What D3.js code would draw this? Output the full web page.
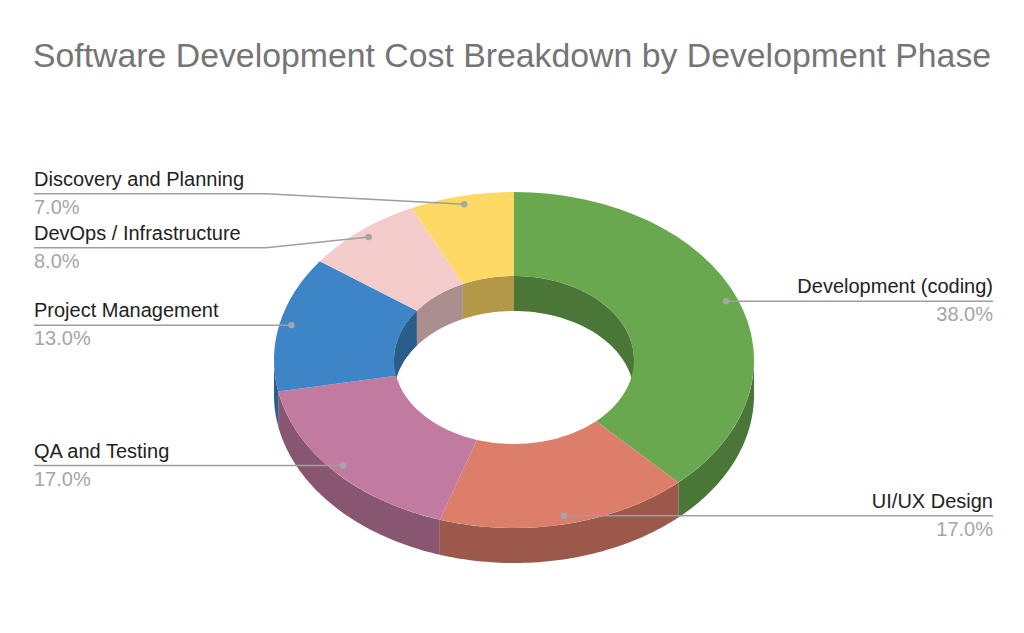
<!DOCTYPE html>
<html>
<head>
<meta charset="utf-8">
<script src="https://cdn.jsdelivr.net/npm/d3@7/dist/d3.min.js"></script>
<style>
  html, body { margin: 0; padding: 0; background: #fff; }
  svg { display: block; font-family: "Liberation Sans", Arial, sans-serif; }
</style>
</head>
<body>
<div id="chart"></div>
<script>
/* --- dados ---------------------------------------------------------------- */
var categories = ['Development (coding)', 'UI/UX Design', 'QA and Testing',
                  'Project Management', 'DevOps / Infrastructure', 'Discovery and Planning'];
var values     = [38, 17, 17, 13, 8, 7];
var colors     = ['#6aa84f', '#dd7e6b', '#c27ba0', '#3d85c6', '#f4cccc', '#ffd966'];
var title      = 'Software Development Cost Breakdown by Development Phase';

/* --- dimensões ------------------------------------------------------------ */
var W = 1024, H = 633;
var cx = 514, cy = 360;        // centro da face superior
var rx = 240, ry = 168;        // raios da elipse externa
var hole = 0.5;                // fração do furo
var depth = 35;                // espessura do anel
var k = ry / rx;

var svg = d3.select('#chart').append('svg').attr('width', W).attr('height', H);

svg.append('text')
  .attr('x', 33).attr('y', 67)
  .attr('font-size', 33.8)
  .attr('fill', '#757575')
  .text(title);

var pie = d3.pie().sort(null).value(function (d) { return d; });
var arcs = pie(values);
var total = d3.sum(values);
var fmt = d3.format('.1%');

function px(a, r) { return cx + r * Math.sin(a); }
function py(a, r) { return cy - r * k * Math.cos(a); }

/* parede: arco de a0 a a1 no raio r, descendo depth */
function wallPath(a0, a1, r) {
  var n = Math.max(2, Math.ceil((a1 - a0) / 0.02));
  var top = d3.range(n + 1).map(function (i) { var a = a0 + (a1 - a0) * i / n; return [px(a, r), py(a, r)]; });
  var bot = top.slice().reverse().map(function (p) { return [p[0], p[1] + depth]; });
  return d3.line()(top.concat(bot)) + 'Z';
}

function clipRange(a0, a1, lo, hi) {
  var s = Math.max(a0, lo), e = Math.min(a1, hi);
  return s < e ? [s, e] : null;
}

var g = svg.append('g');

/* paredes internas (metade de trás do furo) */
arcs.forEach(function (d, i) {
  [[0, Math.PI / 2], [1.5 * Math.PI, 2 * Math.PI]].forEach(function (rg) {
    var c = clipRange(d.startAngle, d.endAngle, rg[0], rg[1]);
    if (!c) return;
    g.append('path')
      .attr('d', wallPath(c[0], c[1], rx * hole))
      .attr('fill', d3.color(colors[i]).darker(1));
  });
});

/* paredes externas (metade da frente) */
arcs.forEach(function (d, i) {
  var c = clipRange(d.startAngle, d.endAngle, Math.PI / 2, 1.5 * Math.PI);
  if (!c) return;
  g.append('path')
    .attr('d', wallPath(c[0], c[1], rx))
    .attr('fill', d3.color(colors[i]).darker(1));
});

/* faces superiores */
var arcGen = d3.arc().innerRadius(rx * hole).outerRadius(rx);
g.append('g')
  .attr('transform', 'translate(' + cx + ',' + cy + ') scale(1,' + k + ')')
  .selectAll('path').data(arcs).join('path')
  .attr('d', arcGen)
  .attr('fill', function (d, i) { return colors[i]; });

/* --- rótulos --------------------------------------------------------------- */
var labels = arcs.map(function (d, i) {
  var a = (d.startAngle + d.endAngle) / 2;
  return {
    name: categories[i], pct: values[i] / total,
    ax: px(a, rx * 0.95), ay: py(a, rx * 0.95),
    left: Math.sin(a) < 0
  };
});
labels.forEach(function (l) { l.y = l.ay; });

/* afastar rótulos próximos no mesmo lado */
var gap = 54;
[true, false].forEach(function (side) {
  var ls = labels.filter(function (l) { return l.left === side; })
    .sort(function (a, b) { return a.y - b.y; });
  for (var it = 0; it < 50; it++) {
    var moved = false;
    for (var j = 1; j < ls.length; j++) {
      var dy = ls[j].y - ls[j - 1].y;
      if (dy < gap) {
        var m = (ls[j].y + ls[j - 1].y) / 2;
        ls[j - 1].y = m - gap / 2; ls[j].y = m + gap / 2; moved = true;
      }
    }
    if (!moved) break;
  }
});

var xL = 34, xR = 993;
var lg = svg.append('g');
labels.forEach(function (l) {
  var xEnd = l.left ? xL : xR;
  var xElbow = l.left ? cx - rx - 8 : cx + rx + 8;
  var pts = [[xEnd, l.y]];
  if (Math.abs(l.y - l.ay) > 0.5) pts.push([xElbow, l.y]);
  pts.push([l.ax, l.ay]);
  lg.append('path')
    .attr('d', d3.line()(pts))
    .attr('fill', 'none').attr('stroke', '#9e9e9e').attr('stroke-width', 1.5);
  lg.append('circle')
    .attr('cx', l.ax).attr('cy', l.ay).attr('r', 3.2)
    .attr('fill', '#a6a6a6');
  lg.append('text')
    .attr('x', xEnd).attr('y', l.y - 8)
    .attr('text-anchor', l.left ? 'start' : 'end')
    .attr('font-size', 20).attr('fill', '#222')
    .text(l.name);
  lg.append('text')
    .attr('x', xEnd).attr('y', l.y + 20)
    .attr('text-anchor', l.left ? 'start' : 'end')
    .attr('font-size', 20).attr('fill', '#a6a6a6')
    .text(fmt(l.pct));
});
</script>
</body>
</html>
